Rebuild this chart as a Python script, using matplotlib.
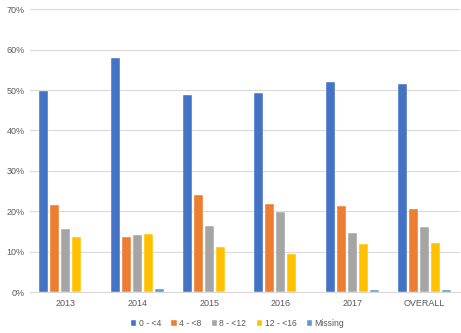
import matplotlib.pyplot as plt
import numpy as np

# categories and series (percent)
years = ["2013", "2014", "2015", "2016", "2017", "OVERALL"]
series_names = ["0 - <4", "4 - <8", "8 - <12", "12 - <16", "Missing"]
age_0_4 = [49.7, 57.9, 48.9, 49.3, 52.1, 51.5]
age_4_8 = [21.6, 13.5, 23.9, 21.9, 21.3, 20.5]
age_8_12 = [15.6, 14.1, 16.3, 19.8, 14.6, 16.1]
age_12_16 = [13.5, 14.3, 11.2, 9.3, 11.9, 12.2]
missing = [0.0, 0.7, 0.1, 0.1, 0.6, 0.4]
yticks = [0, 10, 20, 30, 40, 50, 60, 70]

colors = ["#4472C4", "#ED7D31", "#A5A5A5", "#FFC000", "#5B9BD5"]
all_series = [age_0_4, age_4_8, age_8_12, age_12_16, missing]

plt.rcParams['font.family'] = ['Liberation Sans', 'DejaVu Sans']
fig = plt.figure(figsize=(4.61, 3.33), dpi=100)
ax = fig.add_axes([30/461, 1-292/333, 430/461, (292-9.3)/333])

x = np.arange(len(years))
step = 0.153
for i, (vals, c, name) in enumerate(zip(all_series, colors, series_names)):
    ax.bar(x + (i - 2) * step, vals, width=0.128, color=c, label=name,
           edgecolor="white", linewidth=0.3, zorder=3)

ax.set_xlim(-0.5, len(years) - 0.5)
ax.set_ylim(0, 70)
ax.set_yticks(yticks)
ax.set_yticklabels([f"{t}%" for t in yticks])
ax.set_xticks(x)
ax.set_xticklabels(years)
ax.grid(axis="y", color="#d9d9d9", linewidth=0.8, zorder=0)
for s in ["top", "right", "left"]:
    ax.spines[s].set_visible(False)
ax.spines["bottom"].set_color("#d9d9d9")
ax.spines["bottom"].set_linewidth(0.8)
ax.tick_params(axis="both", length=0, labelsize=6.5, colors="#595959")
ax.tick_params(axis="x", pad=5)
ax.tick_params(axis="y", pad=4)

leg = fig.legend(loc="center", bbox_to_anchor=(237.5/461, 1-323.3/333), ncol=5,
                 frameon=False, fontsize=6.2, handlelength=0.65, handleheight=0.65,
                 handletextpad=0.25, columnspacing=1.2)
for t in leg.get_texts():
    t.set_color("#595959")

fig.savefig("out.png", dpi=100)
